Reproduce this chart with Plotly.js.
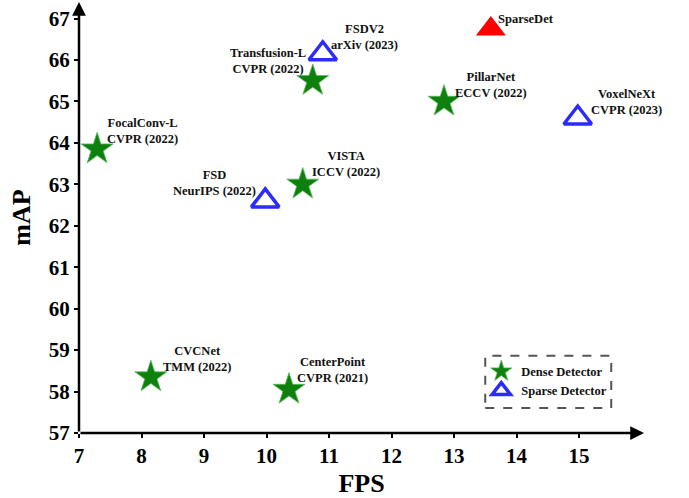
<!DOCTYPE html>
<html>
<head>
<meta charset="utf-8">
<script src="https://cdn.plot.ly/plotly-3.0.1.min.js"></script>
<style>html,body{margin:0;padding:0;background:#fff;}#chart{width:689px;height:498px;}</style>
</head>
<body>
<div id="chart"></div>
<script>
// Dense detectors
const denseNames = ["FocalConv-L", "Transfusion-L", "VISTA", "PillarNet", "CVCNet", "CenterPoint"];
const denseVenues = ["CVPR (2022)", "CVPR (2022)", "ICCV (2022)", "ECCV (2022)", "TMM (2022)", "CVPR (2021)"];
const denseFPS = [7.29, 10.74, 10.58, 12.84, 8.15, 10.36];
const denseMAP = [63.85, 65.5, 63.0, 65.0, 58.35, 58.05];
// Sparse detectors
const sparseNames = ["FSDV2", "FSD", "VoxelNeXt"];
const sparseVenues = ["arXiv (2023)", "NeurIPS (2022)", "CVPR (2023)"];
const sparseFPS = [10.9, 9.98, 14.98];
const sparseMAP = [66.15, 62.6, 64.6];
// Ours
const oursName = "SparseDet";
const oursFPS = [13.59];
const oursMAP = [66.75];
// Ticks
const xTicks = [7, 8, 9, 10, 11, 12, 13, 14, 15];
const yTicks = [57, 58, 59, 60, 61, 62, 63, 64, 65, 66, 67];

// label offsets (pixels) relative to each point
const denseOff = [[45,-18],[-45,-20],[43,-20],[47,-16],[46,-18],[43,-19]];
const sparseOff = [[42,-17],[-51,-18],[49,-16]];
const oursOff = [35,-10];

const FONT = "Liberation Serif, Times New Roman, serif";
const XMAX = 16.04, YMAX = 67.4;

const traces = [
  {
    x: denseFPS, y: denseMAP, type: "scatter", mode: "markers", name: "Dense Detector",
    marker: {symbol: "star", size: 24, color: "#0e800e", line: {color: "#5cb85c", width: 0.8}},
    cliponaxis: false
  },
  {
    x: sparseFPS, y: sparseMAP, type: "scatter", mode: "markers", name: "Sparse Detector",
    marker: {symbol: "triangle-up-open", size: 24, color: "#2b2bff", line: {color: "#2b2bff", width: 3.5}},
    cliponaxis: false
  },
  {
    x: oursFPS, y: oursMAP, type: "scatter", mode: "markers", name: oursName, showlegend: false,
    marker: {symbol: "triangle-up", size: 26, color: "#ff0000", line: {width: 0}},
    cliponaxis: false
  }
];

const annotations = [];
const lblFont = {family: FONT, size: 12.5, color: "#111", weight: "bold"};
denseNames.forEach((n, i) => annotations.push({
  x: denseFPS[i], y: denseMAP[i], xref: "x", yref: "y", text: n + "<br>" + denseVenues[i],
  showarrow: false, xshift: denseOff[i][0], yshift: -denseOff[i][1], font: lblFont, align: "center"
}));
sparseNames.forEach((n, i) => annotations.push({
  x: sparseFPS[i], y: sparseMAP[i], xref: "x", yref: "y", text: n + "<br>" + sparseVenues[i],
  showarrow: false, xshift: sparseOff[i][0], yshift: -sparseOff[i][1], font: lblFont, align: "center"
}));
annotations.push({
  x: oursFPS[0], y: oursMAP[0], xref: "x", yref: "y", text: oursName,
  showarrow: false, xshift: oursOff[0], yshift: -oursOff[1], font: lblFont
});
// axis arrows
annotations.push({x: XMAX, y: 57, ax: 7, ay: 57, xref: "x", yref: "y", axref: "x", ayref: "y",
  text: "", showarrow: true, arrowhead: 2, arrowsize: 1.1, arrowwidth: 2.5, arrowcolor: "#000", standoff: 0});
annotations.push({x: 7, y: YMAX, ax: 7, ay: 57, xref: "x", yref: "y", axref: "x", ayref: "y",
  text: "", showarrow: true, arrowhead: 2, arrowsize: 1.1, arrowwidth: 2.5, arrowcolor: "#000", standoff: 0});

const layout = {
  width: 689, height: 498,
  margin: {l: 79, r: 45, t: 2, b: 65},
  paper_bgcolor: "#fff", plot_bgcolor: "#fff",
  font: {family: FONT, color: "#000"},
  showlegend: true,
  legend: {
    x: 0.712, y: 0.177, xanchor: "left", yanchor: "top",
    bgcolor: "rgba(0,0,0,0)", borderwidth: 0,
    font: {family: FONT, size: 12.5, color: "#111", weight: "bold"},
    itemsizing: "trace", tracegroupgap: 2
  },
  xaxis: {
    range: [7, XMAX], showgrid: false, zeroline: false, showline: false,
    tickmode: "array", tickvals: xTicks, ticktext: xTicks.map(String),
    ticks: "outside", ticklen: 4, tickwidth: 2, tickcolor: "#000",
    tickfont: {family: FONT, size: 21, color: "#000", weight: "bold"},
    title: {text: "FPS", font: {family: FONT, size: 26, color: "#000", weight: "bold"}, standoff: 6}
  },
  yaxis: {
    range: [57, YMAX], showgrid: false, zeroline: false, showline: false,
    tickmode: "array", tickvals: yTicks, ticktext: yTicks.map(String),
    ticks: "outside", ticklen: 4, tickwidth: 2, tickcolor: "#000",
    tickfont: {family: FONT, size: 21, color: "#000", weight: "bold"},
    title: {text: "mAP", font: {family: FONT, size: 26, color: "#000", weight: "bold"}, standoff: 10}
  },
  shapes: [{
    type: "rect", xref: "paper", yref: "paper",
    x0: 0.719, x1: 0.942, y0: 0.058, y1: 0.179,
    line: {color: "#555", width: 2, dash: "dash"}, fillcolor: "rgba(0,0,0,0)"
  }],
  annotations: annotations
};

Plotly.newPlot("chart", traces, layout, {displayModeBar: false, staticPlot: true});
</script>
</body>
</html>
